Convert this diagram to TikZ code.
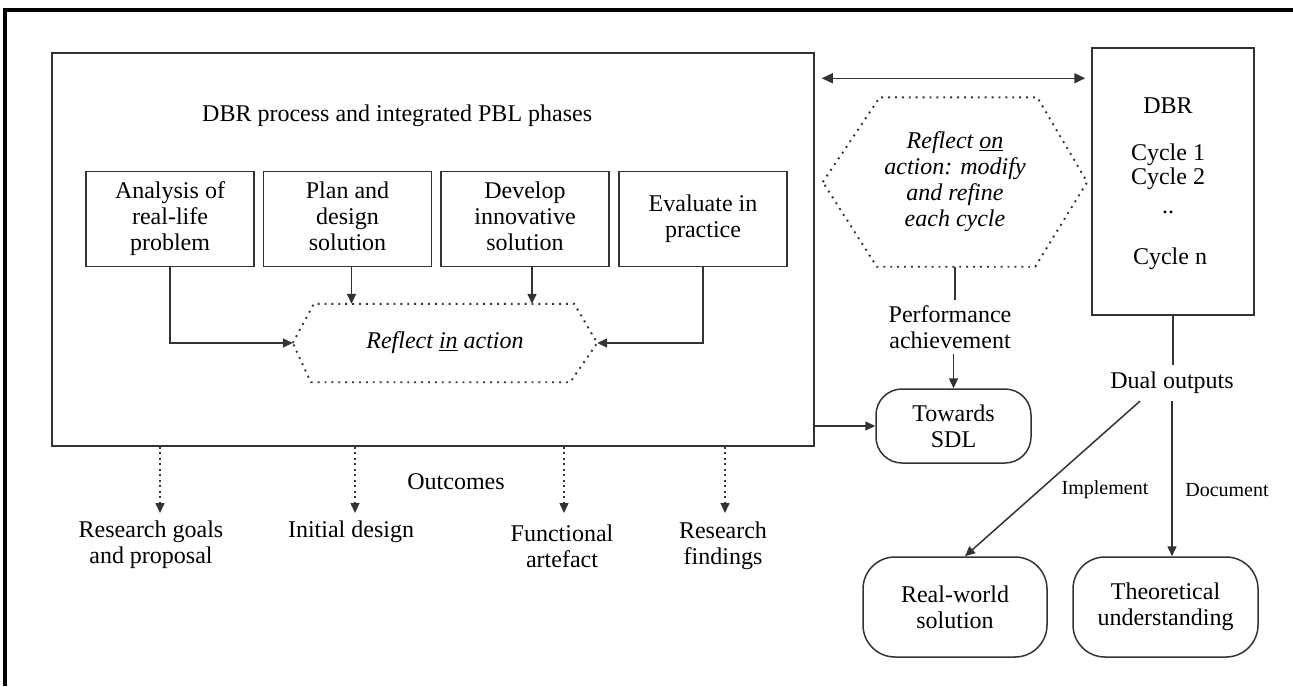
\documentclass[tikz,border=0pt]{standalone}
\usepackage{fontspec}
\setmainfont{Liberation Serif}
\usetikzlibrary{arrows.meta,calc}
\begin{document}
\begin{tikzpicture}[x=1pt,y=-1pt,
  every node/.style={font=\fontsize{24}{26}\selectfont, inner sep=0pt, text=black},
  ln/.style={draw=black!80, line width=1.5pt},
  arr/.style={ln, -{Triangle[length=10pt,width=9pt]}},
  dblarr/.style={ln, {Triangle[length=11pt,width=10pt]}-{Triangle[length=11pt,width=10pt]}},
  dotarr/.style={arr, dash pattern=on 2pt off 3.5pt},
  stepbox/.style={ln, minimum width=168pt, minimum height=95pt, align=center},
  hexdot/.style={draw=black!80, line width=1.9pt, dash pattern=on 1.9pt off 5pt},
  rbox/.style={ln, align=center},
  small/.style={font=\fontsize{20}{22}\selectfont},
  outtext/.style={align=center}
]
\useasboundingbox (0,0) rectangle (1293,686);
% outer frame (top and left only)
\draw[line width=3.5pt] (5,686) -- (5,10) -- (1293,10);

% main box
\node[ln, minimum width=762pt, minimum height=393pt] (main) at (433,249.5) {};
\node[anchor=west] (title) at (202,116) {DBR process and integrated PBL phases};

% phase boxes
\node[stepbox] (s1) at (170,219) {\raisebox{4pt}{\begin{tabular}{@{}c@{}}Analysis of\\real-life\\problem\end{tabular}}};
\node[stepbox] (s2) at (347.5,219) {\raisebox{4pt}{\begin{tabular}{@{}c@{}}Plan and\\design\\solution\end{tabular}}};
\node[stepbox] (s3) at (525,219) {\raisebox{4pt}{\begin{tabular}{@{}c@{}}Develop\\innovative\\solution\end{tabular}}};
\node[stepbox] (s4) at (703,219) {\raisebox{6pt}{\begin{tabular}{@{}c@{}}Evaluate in\\practice\end{tabular}}};

% reflect in action hexagon
\node[minimum width=304pt, minimum height=78pt] (ria) at (445,343) {\itshape Reflect \underline{in} action};
\draw[hexdot] (ria.west) -- ($(ria.north west)+(21,0)$) -- ($(ria.north east)+(-23,0)$) -- (ria.east)
  -- ($(ria.south east)+(-27,0)$) -- ($(ria.south west)+(18,0)$) -- cycle;

\draw[arr] (s1.south) |- (ria.west);
\draw[arr] ($(s2.south)+(4,0)$) -- ($(s2.south |- ria.north)+(4,0)$);
\draw[arr] ($(s3.south)+(7,0)$) -- ($(s3.south |- ria.north)+(7,0)$);
\draw[arr] (s4.south) |- (ria.east);

% outcomes
\node (outc) at (456,482) {Outcomes};
\node[outtext] (o1) at (151,545) {Research goals\\and proposal};
\node[outtext] (o2) at (351,532) {Initial design};
\node[outtext] (o3) at (562,546) {Functional\\artefact};
\node[outtext] (o4) at (723,546) {Research\\findings};
\coordinate (t1) at (160,513);
\coordinate (t2) at (355,513);
\coordinate (t3) at (564,513);
\coordinate (t4) at (725,513);
\foreach \t in {t1,t2,t3,t4} \draw[dotarr] (\t |- main.south) -- (\t);

% DBR box
\node[ln, minimum width=162pt, minimum height=267pt] (dbr) at (1173,181.5) {};
\node (dbrt) at (1168,106) {DBR};
\node (c1) at (1168,155) {Cycle 1};
\node (c2) at (1168,179) {Cycle 2};
\node (cd) at (1168,212) {..};
\node (cn) at (1170,259) {Cycle n};

% double arrow
\coordinate (d1) at ($(main.north east)+(0,26)$);
\draw[dblarr, shorten <=7pt, shorten >=6pt] (d1) -- (d1 -| dbr.west);

% reflect on action hexagon
\node[minimum width=264pt, minimum height=169pt, align=center] (roa) at (955,182)
  {\itshape Reflect \underline{on}\\\itshape action: modify\\\itshape and refine\\\itshape each cycle};
\draw[hexdot] (roa.west) -- ($(roa.north west)+(57,0)$) -- ($(roa.north east)+(-50,0)$) -- (roa.east)
  -- ($(roa.south east)+(-52,0)$) -- ($(roa.south west)+(54,0)$) -- cycle;

% performance / SDL
\node[align=center, inner ysep=5pt] (perf) at (950,327) {Performance\\achievement};
\node[rbox, rounded corners=26pt, minimum width=155pt, minimum height=74pt] (sdl) at (953.5,426) {Towards\\SDL};
\draw[ln] (roa.south) -- (roa.south |- perf.north);
\draw[arr] (sdl.north |- perf.south) -- (sdl.north);
\draw[arr] (sdl.west -| main.east) -- (sdl.west);

% dual outputs
\node[inner ysep=7pt] (dual) at (1172,383) {Dual outputs};
\draw[ln] (dbr.south) -- (dbr.south |- dual.north);
\node[rbox, rounded corners=32pt, minimum width=184pt, minimum height=100pt] (real) at (955,607) {Real-world\\solution};
\node[rbox, rounded corners=32pt, minimum width=185pt, minimum height=100pt] (theo) at (1165.5,607) {Theoretical\\understanding};
\coordinate (ds1) at ($(dual.south)+(-32,0)$);
\coordinate (rn) at ($(real.north)+(10,0)$);
\draw[arr] (ds1) -- (rn);
\draw[arr] (dual.south) -- (dual.south |- theo.north);
\node[small] (impl) at (1105,490) {Implement};
\node[small] (docu) at (1227,490) {Document};
\end{tikzpicture}
\end{document}
